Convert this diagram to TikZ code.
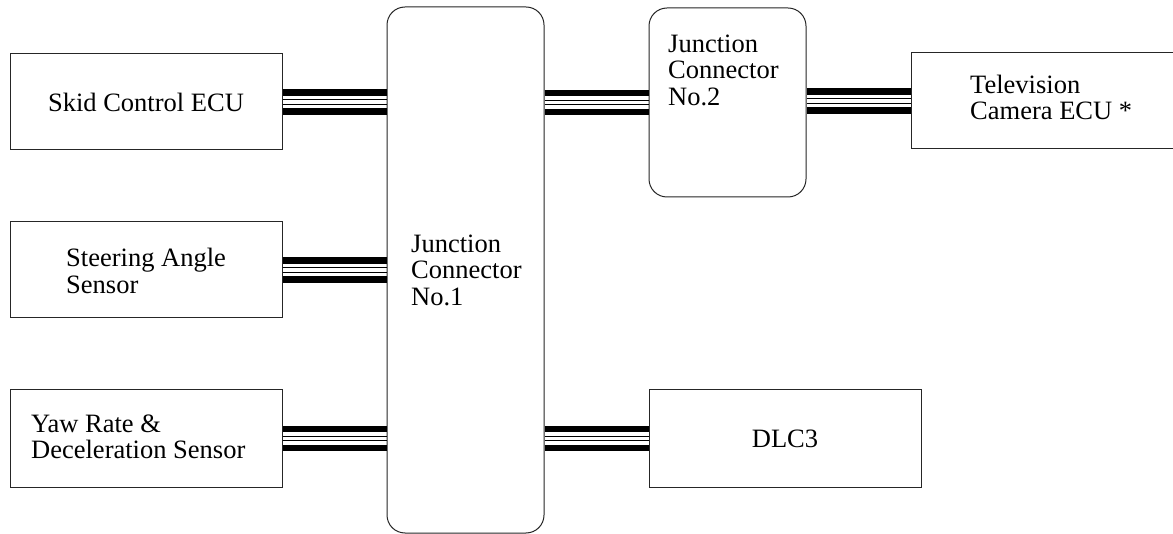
\documentclass[tikz,border=0pt]{standalone}
\usepackage{fontspec}
\setmainfont{Liberation Serif}
% four-wire harness: two heavy outer bars, two fine inner wires
\newcommand\bundle[2]{%
  \foreach \off/\lw in {9.5/6.5,-9.5/6.5,2.2/1,-2.2/1}
    \draw[line width=\lw pt] ([yshift=\off pt]#1) -- ([yshift=\off pt]#2);}
\begin{document}
\begin{tikzpicture}[x=1pt,y=-1pt,
  box/.style={draw=black!85, line width=1pt, inner sep=0pt, fill=white},
  jbox/.style={box, rounded corners=18pt},
  lbl/.style={font=\fontsize{26.5}{26.5}\selectfont, align=left, inner sep=0pt},
]
\useasboundingbox (0,0) rectangle (1173,534);
\clip (0,0) rectangle (1173,534);

% units
\node[box, minimum width=272pt, minimum height=96pt] (skid)  at (146,102) {};
\node[box, minimum width=272pt, minimum height=96pt] (steer) at (146,270) {};
\node[box, minimum width=272pt, minimum height=97pt] (yaw)   at (146,438.5) {};
\node[jbox, minimum width=157pt, minimum height=526pt] (j1) at (465.5,270) {};
\node[jbox, minimum width=157pt, minimum height=189pt] (j2) at (727.5,102.5) {};
\node[box, minimum width=270pt, minimum height=96pt] (tv)  at (1046,101) {};
\node[box, minimum width=272pt, minimum height=97pt] (dlc) at (785,438.5) {};

% labels
\node[lbl] (skidT) at (skid) {Skid Control ECU};
\node[lbl, anchor=west] (steerT) at (66,271) {Steering Angle\\Sensor};
\node[lbl, anchor=west] (yawT) at (31,437) {Yaw Rate \&\\Deceleration Sensor};
\node[lbl, anchor=west] (j1T) at (411,270) {Junction\\Connector\\No.1};
\node[lbl, anchor=west] (j2T) at (668,70) {Junction\\Connector\\No.2};
\node[lbl, anchor=west] (tvT) at (970,97.5) {Television\\Camera ECU *};
\node[lbl] (dlcT) at (dlc) {DLC3};

% harness connections
\coordinate (j1skid)  at (skid.east -| j1.west);
\coordinate (j1steer) at (steer.east -| j1.west);
\coordinate (j1yaw)   at (yaw.east -| j1.west);
\coordinate (j1j2)    at (j1.east |- j2.west);
\coordinate (j2tv)    at (j2.east |- tv.west);
\coordinate (j1dlc)   at (j1.east |- dlc.west);
\bundle{skid.east}{j1skid}
\bundle{steer.east}{j1steer}
\bundle{yaw.east}{j1yaw}
\bundle{j1j2}{j2.west}
\bundle{j2tv}{tv.west}
\bundle{j1dlc}{dlc.west}
\end{tikzpicture}
\end{document}
